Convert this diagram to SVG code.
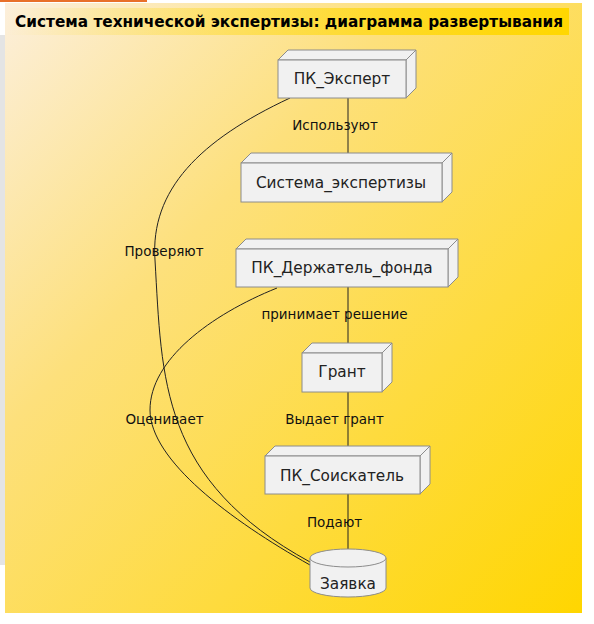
<svg xmlns="http://www.w3.org/2000/svg" width="594" height="624" viewBox="0 0 594 624">
<defs>
<linearGradient id="bg" x1="0" y1="0" x2="1" y2="1">
<stop offset="0" stop-color="#FCEFDC"/>
<stop offset="0.35" stop-color="#FDE07C"/>
<stop offset="1" stop-color="#FFD600"/>
</linearGradient>
<linearGradient id="tb" x1="0" y1="0" x2="1" y2="0">
<stop offset="0" stop-color="#FFD700" stop-opacity="0"/>
<stop offset="1" stop-color="#FFD700" stop-opacity="1"/>
</linearGradient>
<style>
.box{fill:#F1F1F1;stroke:#8C8C8C;stroke-width:1;}
.nt{font-family:"DejaVu Sans",sans-serif;font-size:15.3px;fill:#222;text-anchor:middle;}
.lt{font-family:"DejaVu Sans",sans-serif;font-size:13.5px;fill:#111;text-anchor:middle;}
.ln{fill:none;stroke:#222;stroke-width:1;}
</style>
</defs>
<rect x="0" y="0" width="594" height="624" fill="#FFFFFF"/>
<rect x="0" y="35" width="5" height="530" fill="#E4E4E4"/>
<rect x="0" y="0" width="147" height="2" fill="#E8702A"/>
<rect x="5" y="3" width="577" height="610" fill="url(#bg)"/>
<rect x="5" y="8" width="564" height="27" fill="url(#tb)"/>
<text x="15" y="27" font-family="DejaVu Sans, sans-serif" font-size="15.3" font-weight="bold" fill="#000">Система технической экспертизы: диаграмма развертывания</text>

<g id="connectors">
<line class="ln" x1="348" y1="97" x2="348" y2="153"/>
<line class="ln" x1="348" y1="287" x2="348" y2="343"/>
<line class="ln" x1="348" y1="392" x2="348" y2="446"/>
<line class="ln" x1="348" y1="494" x2="348" y2="549"/>
<path class="ln" d="M290,98 C200,140 150,190 155,260 C162,380 160,480 310,562"/>
<path class="ln" d="M277,288 C210,315 150,360 150,410 C150,460 230,520 310,565"/>
<text class="lt" x="335" y="130">Используют</text>
<text class="lt" x="334.5" y="319">принимает решение</text>
<text class="lt" x="334.5" y="424">Выдает грант</text>
<text class="lt" x="334.5" y="527">Подают</text>
<text class="lt" x="164" y="256">Проверяют</text>
<text class="lt" x="164.5" y="424">Оценивает</text>
</g>

<g id="expert">
<path class="box" d="M278,60 L288,50 L416,50 L406,60 Z"/>
<path class="box" d="M406,60 L416,50 L416,88 L406,98 Z"/>
<rect class="box" x="278" y="60" width="128" height="38"/>
<text class="nt" x="342" y="84">ПК_Эксперт</text>
</g>
<g id="system">
<path class="box" d="M241,163 L251,153 L452,153 L442,163 Z"/>
<path class="box" d="M442,163 L452,153 L452,192 L442,202 Z"/>
<rect class="box" x="241" y="163" width="201" height="39"/>
<text class="nt" x="341" y="188">Система_экспертизы</text>
</g>
<g id="holder">
<path class="box" d="M236,249 L246,239 L458,239 L448,249 Z"/>
<path class="box" d="M448,249 L458,239 L458,277 L448,287 Z"/>
<rect class="box" x="236" y="249" width="212" height="38"/>
<text class="nt" x="342" y="273">ПК_Держатель_фонда</text>
</g>
<g id="grant">
<path class="box" d="M302,353 L312,343 L392,343 L382,353 Z"/>
<path class="box" d="M382,353 L392,343 L392,382 L382,392 Z"/>
<rect class="box" x="302" y="353" width="80" height="39"/>
<text class="nt" x="342" y="377">Грант</text>
</g>
<g id="applicant">
<path class="box" d="M265,456 L275,446 L430,446 L420,456 Z"/>
<path class="box" d="M420,456 L430,446 L430,484 L420,494 Z"/>
<rect class="box" x="265" y="456" width="155" height="38"/>
<text class="nt" x="342" y="481">ПК_Соискатель</text>
</g>
<g id="zayavka">
<path class="box" d="M310,558 L310,588 A38,9 0 0 0 386,588 L386,558 A38,9 0 0 0 310,558 Z"/>
<path class="box" d="M310,558 A38,9 0 0 0 386,558" fill="none"/>
<text class="nt" x="348" y="589">Заявка</text>
</g>
</svg>
